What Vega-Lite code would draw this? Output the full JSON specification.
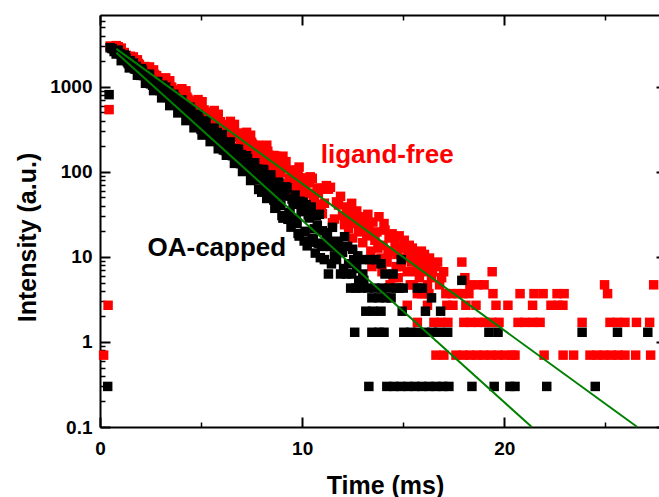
{
  "$schema": "https://vega.github.io/schema/vega-lite/v6.json",
  "width": 559,
  "height": 412,
  "autosize": {"type": "none"},
  "padding": {"left": 100, "top": 15, "right": 0, "bottom": 70},
  "config": {
    "view": {"stroke": null},
    "axis": {
      "labelFont": "Liberation Sans", "titleFont": "Liberation Sans",
      "labelFontWeight": "bold", "titleFontWeight": "bold",
      "labelFontSize": 19, "titleFontSize": 25,
      "labelColor": "black", "titleColor": "black",
      "tickColor": "black", "domainColor": "black",
      "grid": false, "domain": false, "labelFlush": false, "labelOverlap": false
    }
  },
  "datasets": {
    "red": [
      {"t":0.18,"v":0.7},{"t":0.4,"v":2.7},{"t":0.45,"v":540},
      {"t":0.5,"v":3020},{"t":0.7,"v":2767},{"t":0.9,"v":2965},{"t":1.1,"v":2297},{"t":1.3,"v":2350},{"t":1.5,"v":2291},{"t":1.7,"v":1795},{"t":1.9,"v":1884},{"t":2.1,"v":1632},{"t":2.3,"v":1698},{"t":2.5,"v":1341},{"t":2.7,"v":1396},{"t":2.9,"v":1113},{"t":3.1,"v":1250},{"t":3.3,"v":1017},{"t":3.5,"v":995},{"t":3.7,"v":800},{"t":3.9,"v":920},{"t":4.1,"v":715},{"t":4.3,"v":758},{"t":4.5,"v":576},{"t":4.7,"v":604},{"t":4.9,"v":611},{"t":5.1,"v":469},{"t":5.3,"v":504},{"t":5.5,"v":384},{"t":5.7,"v":460},{"t":5.9,"v":356},{"t":6.1,"v":361},{"t":6.3,"v":275},{"t":6.5,"v":326},{"t":6.7,"v":255},{"t":6.9,"v":286},{"t":7.1,"v":198},{"t":7.3,"v":220},{"t":7.5,"v":223},{"t":7.7,"v":151},{"t":7.9,"v":183},
      {"t":0.6,"v":2852},{"t":0.8,"v":3055},{"t":1.0,"v":2547},{"t":1.2,"v":2535},{"t":1.4,"v":2020},{"t":1.6,"v":2103},{"t":1.8,"v":2070},{"t":2.0,"v":1667},{"t":2.2,"v":1735},{"t":2.4,"v":1371},{"t":2.6,"v":1387},{"t":2.8,"v":1355},{"t":3.0,"v":1094},{"t":3.2,"v":1216},{"t":3.4,"v":966},{"t":3.6,"v":843},{"t":3.8,"v":904},{"t":4.0,"v":874},{"t":4.2,"v":649},{"t":4.4,"v":688},{"t":4.6,"v":665},{"t":4.8,"v":548},{"t":5.0,"v":608},{"t":5.2,"v":432},{"t":5.4,"v":478},{"t":5.6,"v":411},{"t":5.8,"v":430},{"t":6.0,"v":323},{"t":6.2,"v":343},{"t":6.4,"v":349},{"t":6.6,"v":258},{"t":6.8,"v":259},{"t":7.0,"v":199},{"t":7.2,"v":251},{"t":7.4,"v":224},{"t":7.6,"v":178},{"t":7.8,"v":206},
      {"t":1.05,"v":2857},{"t":1.45,"v":1936},{"t":1.85,"v":2078},{"t":2.25,"v":1344},{"t":2.65,"v":1584},{"t":3.05,"v":979},{"t":3.45,"v":1179},{"t":3.85,"v":696},{"t":4.25,"v":899},{"t":4.65,"v":483},{"t":5.05,"v":669},{"t":5.45,"v":352},{"t":5.85,"v":476},{"t":6.25,"v":245},{"t":6.65,"v":362},{"t":7.05,"v":178},{"t":7.45,"v":270},{"t":7.85,"v":124},{"t":8.25,"v":206},{"t":8.65,"v":85.9},{"t":9.05,"v":153},{"t":9.45,"v":59.7},{"t":9.85,"v":114},
      {"t":1.25,"v":2095},{"t":1.65,"v":2250},{"t":2.05,"v":1490},{"t":2.45,"v":1714},{"t":2.85,"v":1059},{"t":3.25,"v":1276},{"t":3.65,"v":753},{"t":4.05,"v":951},{"t":4.45,"v":524},{"t":4.85,"v":708},{"t":5.25,"v":381},{"t":5.65,"v":527},{"t":6.05,"v":271},{"t":6.45,"v":393},{"t":6.85,"v":193},{"t":7.25,"v":292},{"t":7.65,"v":137},
      {"t":1.15,"v":2500},{"t":1.35,"v":2208},{"t":1.55,"v":2135},{"t":1.75,"v":1884},{"t":1.95,"v":1822},{"t":2.15,"v":1607},{"t":2.35,"v":1571},{"t":2.55,"v":1355},{"t":2.75,"v":1340},{"t":2.95,"v":1156},{"t":3.15,"v":1156},{"t":3.35,"v":975},{"t":3.55,"v":986},{"t":3.75,"v":832},{"t":3.95,"v":841},{"t":4.15,"v":710},{"t":4.35,"v":718},{"t":4.55,"v":605},{"t":4.75,"v":612},{"t":4.95,"v":516},{"t":5.15,"v":535},{"t":5.35,"v":430},{"t":5.55,"v":456},{"t":5.75,"v":367},{"t":5.95,"v":389},{"t":6.15,"v":313},{"t":6.35,"v":332},{"t":6.55,"v":267},{"t":6.75,"v":283},{"t":6.95,"v":228},{"t":7.15,"v":247},{"t":7.35,"v":190},{"t":7.55,"v":211},{"t":7.75,"v":162},{"t":7.95,"v":180},{"t":8.15,"v":138},{"t":8.35,"v":157},{"t":8.55,"v":115},{"t":8.75,"v":134},{"t":8.95,"v":98.2},{"t":9.15,"v":114},{"t":9.35,"v":83.8},{"t":9.55,"v":99.7},{"t":9.75,"v":69.8},{"t":9.95,"v":85.1},{"t":10.15,"v":59.6},{"t":10.35,"v":74.2},{"t":10.55,"v":49.7},{"t":10.75,"v":64.8},{"t":10.95,"v":41.4},
      {"t":8.0,"v":131},{"t":8.1,"v":148},{"t":8.2,"v":171},{"t":8.3,"v":175},{"t":8.4,"v":128},{"t":8.5,"v":112},{"t":8.6,"v":156},{"t":8.7,"v":153},{"t":8.8,"v":92.9},{"t":8.9,"v":100},{"t":9.0,"v":124},{"t":9.1,"v":113},{"t":9.2,"v":132},{"t":9.3,"v":72.8},{"t":9.4,"v":78.1},{"t":9.5,"v":105},{"t":9.6,"v":80.5},{"t":9.7,"v":105},{"t":9.8,"v":98.1},{"t":9.9,"v":60.6},{"t":10.0,"v":51.4},{"t":10.1,"v":72.2},{"t":10.2,"v":77.0},{"t":10.3,"v":56.1},{"t":10.4,"v":87.5},{"t":10.5,"v":84.1},{"t":10.6,"v":48.1},{"t":10.7,"v":40.3},{"t":10.8,"v":56.6},{"t":10.9,"v":62.5},{"t":11.0,"v":32.2},{"t":11.1,"v":42.8},{"t":11.2,"v":69},{"t":11.3,"v":62.6},{"t":11.4,"v":65.9},{"t":11.5,"v":25.2},{"t":11.6,"v":27.9},{"t":11.7,"v":44.4},{"t":11.8,"v":40.8},{"t":11.9,"v":51.6},{"t":12.0,"v":30.7},{"t":12.1,"v":23.9},
      {"t":12.2,"v":38.7},{"t":12.3,"v":21.7},{"t":12.4,"v":30.7},{"t":12.5,"v":16.7},{"t":12.6,"v":27.7},{"t":12.7,"v":34.7},{"t":12.8,"v":19.7},{"t":12.9,"v":24.7},{"t":13.0,"v":14.7},{"t":13.1,"v":28.7},{"t":13.2,"v":17.7},{"t":13.3,"v":22.7},{"t":13.4,"v":11.7},{"t":13.45,"v":7.7},{"t":13.5,"v":25.7},{"t":13.6,"v":15.7},{"t":13.7,"v":19.7},{"t":13.8,"v":29.7},{"t":13.9,"v":9.7},{"t":13.95,"v":6.7},{"t":14.0,"v":13.7},{"t":14.1,"v":20.7},{"t":14.2,"v":8.7},{"t":14.3,"v":16.7},{"t":14.35,"v":4.7},{"t":14.4,"v":11.7},{"t":14.5,"v":5.7},{"t":14.6,"v":14.7},{"t":14.7,"v":10.7},{"t":14.75,"v":5.7},{"t":14.8,"v":17.7},{"t":14.9,"v":7.7},{"t":15.0,"v":12.7},{"t":15.1,"v":9.7},{"t":15.2,"v":6.7},{"t":15.3,"v":13.7},{"t":15.35,"v":4.7},{"t":15.4,"v":8.7},{"t":15.5,"v":4.7},{"t":15.6,"v":10.7},{"t":15.7,"v":7.7},{"t":15.8,"v":5.7},{"t":15.9,"v":11.7},{"t":16.0,"v":6.7},{"t":16.1,"v":8.7},{"t":16.2,"v":4.7},{"t":16.3,"v":9.7},{"t":16.4,"v":5.7},{"t":16.6,"v":7.7},{"t":16.7,"v":8.7},{"t":16.8,"v":4.7},{"t":16.9,"v":5.7},{"t":17.0,"v":6.7},
      {"t":12.25,"v":26.7},{"t":12.35,"v":33.7},{"t":12.45,"v":42.7},{"t":12.75,"v":24.7},{"t":12.85,"v":29.7},{"t":13.05,"v":20.7},{"t":13.25,"v":31.7},{"t":13.55,"v":18.7},{"t":13.75,"v":12.7},{"t":14.05,"v":24.7},{"t":14.25,"v":10.7},{"t":14.45,"v":18.7},{"t":14.65,"v":7.7},{"t":14.85,"v":12.7},{"t":15.05,"v":15.7},{"t":15.25,"v":10.7},{"t":15.45,"v":12.7},{"t":15.65,"v":6.7},{"t":15.85,"v":8.7},{"t":16.05,"v":10.7},{"t":16.25,"v":7.7},{"t":16.45,"v":6.7},
      {"t":17.9,"v":8.7},{"t":18.05,"v":5.7},{"t":19.4,"v":6.7},{"t":18.3,"v":4.7},{"t":18.7,"v":4.7},{"t":19.0,"v":4.7},{"t":24.96,"v":4.7},{"t":27.39,"v":4.7},
      {"t":15.7,"v":3.7},{"t":15.9,"v":3.7},{"t":16.1,"v":3.7},{"t":16.27,"v":3.7},{"t":17.11,"v":3.7},{"t":17.41,"v":3.7},{"t":17.7,"v":3.7},{"t":17.96,"v":3.7},{"t":18.25,"v":3.7},{"t":19.44,"v":3.7},{"t":20.78,"v":3.7},{"t":21.47,"v":3.7},{"t":21.92,"v":3.7},{"t":22.61,"v":3.7},{"t":22.96,"v":3.7},{"t":25.11,"v":3.7},
      {"t":15.2,"v":2.7},{"t":16.2,"v":2.7},{"t":17.16,"v":2.7},{"t":17.46,"v":2.7},{"t":18.1,"v":2.7},{"t":18.6,"v":2.7},{"t":19.59,"v":2.7},{"t":20.18,"v":2.7},{"t":21.4,"v":2.7},{"t":22.31,"v":2.7},{"t":22.66,"v":2.7},{"t":22.9,"v":2.7},
      {"t":15.7,"v":1.7},{"t":16.52,"v":1.7},{"t":16.87,"v":1.7},{"t":17.21,"v":1.7},{"t":18.0,"v":1.7},{"t":18.35,"v":1.7},{"t":18.7,"v":1.7},{"t":19.04,"v":1.7},{"t":19.39,"v":1.7},{"t":19.74,"v":1.7},{"t":20.68,"v":1.7},{"t":21.02,"v":1.7},{"t":21.42,"v":1.7},{"t":21.77,"v":1.7},{"t":23.85,"v":1.7},{"t":25.23,"v":1.7},{"t":25.58,"v":1.7},{"t":25.97,"v":1.7},{"t":26.54,"v":1.7},{"t":27.19,"v":1.7},
      {"t":16.62,"v":0.7},{"t":17.01,"v":0.7},{"t":17.61,"v":0.7},{"t":17.96,"v":0.7},{"t":18.3,"v":0.7},{"t":18.65,"v":0.7},{"t":18.99,"v":0.7},{"t":19.34,"v":0.7},{"t":19.69,"v":0.7},{"t":20.03,"v":0.7},{"t":20.38,"v":0.7},{"t":20.53,"v":0.7},{"t":21.97,"v":0.7},{"t":22.91,"v":0.7},{"t":23.43,"v":0.7},{"t":24.24,"v":0.7},{"t":24.59,"v":0.7},{"t":24.93,"v":0.7},{"t":25.28,"v":0.7},{"t":25.63,"v":0.7},{"t":25.97,"v":0.7},{"t":26.5,"v":0.7},{"t":27.24,"v":0.7}
    ],
    "black": [
      {"t":0.38,"v":0.3},{"t":0.45,"v":810},
      {"t":0.5,"v":2884},{"t":0.7,"v":2602},{"t":0.9,"v":2704},{"t":1.1,"v":2080},{"t":1.3,"v":2163},{"t":1.5,"v":2032},{"t":1.7,"v":1633},{"t":1.9,"v":1413},{"t":2.1,"v":1563},{"t":2.3,"v":1303},{"t":2.5,"v":1086},{"t":2.7,"v":1119},{"t":2.9,"v":934},{"t":3.1,"v":1047},{"t":3.3,"v":753},{"t":3.5,"v":802},{"t":3.7,"v":760},{"t":3.9,"v":586},{"t":4.1,"v":570},{"t":4.3,"v":460},{"t":4.5,"v":519},{"t":4.7,"v":400},{"t":4.9,"v":416},{"t":5.1,"v":363},{"t":5.3,"v":277},{"t":5.5,"v":300},{"t":5.7,"v":251},{"t":5.9,"v":271},{"t":6.1,"v":181},{"t":6.3,"v":212},{"t":6.5,"v":164},{"t":6.7,"v":186},{"t":6.9,"v":128},
      {"t":0.6,"v":2818},{"t":0.8,"v":2432},{"t":1.0,"v":2460},{"t":1.2,"v":2377},{"t":1.4,"v":1877},{"t":1.6,"v":1750},{"t":1.8,"v":1738},{"t":2.0,"v":1365},{"t":2.2,"v":1406},{"t":2.4,"v":1334},{"t":2.6,"v":1044},{"t":2.8,"v":1018},{"t":3.0,"v":935},{"t":3.2,"v":962},{"t":3.4,"v":902},{"t":3.6,"v":665},{"t":3.8,"v":676},{"t":4.0,"v":558},{"t":4.2,"v":601},{"t":4.4,"v":438},{"t":4.6,"v":472},{"t":4.8,"v":404},{"t":5.0,"v":316},{"t":5.2,"v":377},{"t":5.4,"v":315},{"t":5.6,"v":251},{"t":5.8,"v":290},{"t":6.0,"v":216},{"t":6.2,"v":178},{"t":6.4,"v":202},{"t":6.6,"v":177},{"t":6.8,"v":128},
      {"t":1.05,"v":2032},{"t":1.25,"v":2321},{"t":1.45,"v":1671},{"t":1.65,"v":1905},{"t":1.85,"v":1371},{"t":2.05,"v":1637},{"t":2.25,"v":1101},{"t":2.45,"v":1409},{"t":2.65,"v":904},{"t":2.85,"v":1156},{"t":3.05,"v":742},{"t":3.25,"v":994},{"t":3.45,"v":602},{"t":3.65,"v":817},{"t":3.85,"v":494},{"t":4.05,"v":702},{"t":4.25,"v":401},{"t":4.45,"v":577},{"t":4.65,"v":330},{"t":4.85,"v":473},{"t":5.05,"v":271},{"t":5.25,"v":398},{"t":5.45,"v":227},{"t":5.65,"v":327},{"t":5.85,"v":187},{"t":6.05,"v":274},{"t":6.25,"v":157},{"t":6.45,"v":225},{"t":6.65,"v":126},{"t":6.85,"v":185},{"t":7.05,"v":101},{"t":7.25,"v":155},{"t":7.45,"v":79.2},{"t":7.65,"v":128},{"t":7.85,"v":62.1},{"t":8.05,"v":107},{"t":8.25,"v":48.7},{"t":8.45,"v":92.2},{"t":8.65,"v":37.3},{"t":8.85,"v":75.7},{"t":9.05,"v":28.6},{"t":9.25,"v":65.1},{"t":9.45,"v":22.4},{"t":9.65,"v":53.4},{"t":9.85,"v":17.6},{"t":10.05,"v":43.9},{"t":10.25,"v":13.5},{"t":10.45,"v":38.6},{"t":10.65,"v":11.1},{"t":10.85,"v":31.7},
      {"t":1.15,"v":2275},{"t":1.35,"v":1968},{"t":1.55,"v":1866},{"t":1.75,"v":1618},{"t":1.95,"v":1535},{"t":2.15,"v":1358},{"t":2.35,"v":1303},{"t":2.55,"v":1102},{"t":2.75,"v":1071},{"t":2.95,"v":905},{"t":3.15,"v":931},{"t":3.35,"v":769},{"t":3.55,"v":764},{"t":3.75,"v":632},{"t":3.95,"v":628},{"t":4.15,"v":519},{"t":4.35,"v":515},{"t":4.55,"v":426},{"t":4.75,"v":433},{"t":4.95,"v":342},{"t":5.15,"v":356},{"t":5.35,"v":281},{"t":5.55,"v":292},{"t":5.75,"v":231},{"t":5.95,"v":240},{"t":6.15,"v":189},{"t":6.35,"v":197},{"t":6.55,"v":155},{"t":6.75,"v":166},{"t":6.95,"v":125},{"t":7.15,"v":136},{"t":7.35,"v":102},{"t":7.55,"v":111},{"t":7.75,"v":80.2},{"t":7.95,"v":91.5},{"t":8.15,"v":65.9},{"t":8.35,"v":76.9},{"t":8.55,"v":50.5},{"t":8.75,"v":61.7},{"t":8.95,"v":40.5},{"t":9.15,"v":51.9},{"t":9.35,"v":32.5},{"t":9.55,"v":41.6},{"t":9.75,"v":24.9},{"t":9.95,"v":35.0},{"t":10.15,"v":20.0},{"t":10.35,"v":28.7},{"t":10.55,"v":16.4},{"t":10.75,"v":23.6},{"t":10.95,"v":13.5},
      {"t":7.0,"v":160},{"t":7.1,"v":136},{"t":7.2,"v":103},{"t":7.3,"v":142},{"t":7.4,"v":120},{"t":7.5,"v":82.8},{"t":7.6,"v":86.4},{"t":7.7,"v":104},{"t":7.8,"v":108},{"t":7.9,"v":81.7},{"t":8.0,"v":57.7},{"t":8.1,"v":105},{"t":8.2,"v":84.7},{"t":8.3,"v":56.6},{"t":8.4,"v":84.6},{"t":8.5,"v":65.5},{"t":8.6,"v":46.6},{"t":8.7,"v":39.0},{"t":8.8,"v":54.7},{"t":8.9,"v":65.2},{"t":9.0,"v":30.7},{"t":9.1,"v":53.2},{"t":9.2,"v":66.7},{"t":9.3,"v":27.7},{"t":9.4,"v":33.2},{"t":9.5,"v":47.9},{"t":9.6,"v":43.5},{"t":9.7,"v":27.4},{"t":9.8,"v":18.9},{"t":9.9,"v":45.1},{"t":10.0,"v":34.1},{"t":10.1,"v":15.4},{"t":10.2,"v":41.2},{"t":10.3,"v":31.2},{"t":10.4,"v":14.9},{"t":10.5,"v":15.9},{"t":10.6,"v":21.4},{"t":10.7,"v":30.4},{"t":10.8,"v":14.5},{"t":10.9,"v":9.8},
      {"t":11.05,"v":13.3},{"t":11.25,"v":19.3},{"t":11.45,"v":8.3},{"t":11.65,"v":15.3},{"t":11.85,"v":11.3},{"t":12.05,"v":7.3},{"t":12.25,"v":13.3},{"t":12.45,"v":6.3},{"t":12.75,"v":10.3},{"t":13.05,"v":5.3},
      {"t":11.0,"v":20.3},{"t":11.1,"v":9.3},{"t":11.2,"v":16.3},{"t":11.3,"v":6.3},{"t":11.4,"v":13.3},{"t":11.5,"v":22.3},{"t":11.6,"v":10.3},{"t":11.7,"v":9.3},{"t":11.8,"v":14.3},{"t":11.9,"v":6.3},{"t":12.0,"v":11.3},{"t":12.1,"v":17.3},{"t":12.2,"v":6.3},{"t":12.3,"v":8.3},{"t":12.4,"v":4.3},{"t":12.5,"v":12.3},{"t":12.55,"v":9.3},{"t":12.6,"v":1.3},{"t":12.65,"v":4.3},{"t":12.7,"v":7.3},{"t":12.8,"v":5.3},{"t":12.9,"v":4.3},{"t":12.95,"v":9.3},{"t":13.0,"v":6.3},{"t":13.15,"v":2.3},{"t":13.25,"v":4.3},{"t":13.3,"v":0.3},{"t":13.35,"v":9.3},{"t":13.45,"v":1.3},{"t":13.45,"v":3.3},{"t":13.5,"v":2.3},{"t":13.6,"v":4.3},{"t":13.65,"v":9.3},{"t":13.8,"v":3.3},{"t":13.8,"v":1.3},{"t":13.9,"v":2.3},{"t":13.9,"v":8.3},{"t":13.95,"v":4.3},{"t":14.05,"v":1.3},{"t":14.1,"v":6.3},{"t":14.15,"v":3.3},{"t":14.19,"v":0.3},{"t":14.3,"v":4.3},{"t":14.4,"v":3.3},{"t":14.5,"v":6.3},{"t":14.54,"v":0.3},{"t":14.65,"v":4.3},{"t":14.8,"v":4.3},{"t":14.88,"v":0.3},{"t":14.9,"v":9.3},{"t":14.95,"v":2.3},{"t":15.0,"v":4.3},{"t":15.03,"v":1.3},{"t":15.23,"v":0.3},{"t":15.38,"v":1.3},{"t":15.58,"v":0.3},{"t":15.7,"v":4.3},{"t":15.72,"v":1.3},{"t":15.92,"v":0.3},{"t":15.95,"v":4.3},{"t":16.07,"v":1.3},{"t":16.1,"v":2.3},{"t":16.27,"v":0.3},{"t":16.4,"v":3.3},{"t":16.42,"v":1.3},{"t":16.62,"v":0.3},{"t":16.76,"v":1.3},{"t":16.85,"v":2.3},{"t":16.96,"v":0.3},{"t":17.2,"v":1.3},{"t":17.26,"v":0.3},{"t":17.9,"v":5.3},{"t":18.4,"v":0.3},{"t":19.24,"v":1.3},{"t":19.5,"v":0.3},{"t":19.69,"v":1.3},{"t":20.28,"v":0.3},{"t":20.53,"v":0.3},{"t":22.1,"v":0.3},{"t":23.85,"v":1.3},{"t":24.5,"v":0.3},{"t":25.6,"v":1.3},{"t":27.1,"v":1.3}
    ],
    "fits": [
      {"t":0.81,"v":2800,"s":"ligand-free"},{"t":26.58,"v":0.1,"s":"ligand-free"},
      {"t":0.81,"v":2512,"s":"OA-capped"},{"t":21.36,"v":0.1,"s":"OA-capped"}
    ],
    "lab1": [{"t":10.92,"v":127,"label":"ligand-free"}],
    "lab2": [{"t":2.35,"v":10.35,"label":"OA-capped"}]
  },
  "resolve": {"axis": {"x": "independent", "y": "independent"}},
  "layer": [
    {
      "data": {"name": "red"},
      "mark": {"type": "square", "size": 90, "color": "#ff0000", "opacity": 1},
      "encoding": {
        "x": {"field": "t", "type": "quantitative",
          "scale": {"domain": [0, 28], "range": [0, 566], "nice": false, "zero": false},
          "axis": {"orient": "bottom", "values": [0, 10, 20], "ticks": false, "domain": true, "domainWidth": 2,
            "labelPadding": 12, "title": "Time (ms)", "titleX": 285, "titleY": 66, "titleBaseline": "alphabetic", "titleAlign": "center"}},
        "y": {"field": "v", "type": "quantitative",
          "scale": {"type": "log", "domain": [0.1, 7000], "nice": false},
          "axis": {"orient": "left", "values": [0.1, 1, 10, 100, 1000], "ticks": false, "domain": true, "domainWidth": 2,
            "labelPadding": 8, "labelExpr": "datum.value >= 1 ? format(datum.value, 'd') : format(datum.value, '.1f')",
            "title": "Intensity (a.u.)", "titleX": -65, "titleY": 222, "titleBaseline": "alphabetic", "titleAlign": "center", "titleAngle": -90}}
      }
    },
    {
      "data": {"name": "black"},
      "mark": {"type": "square", "size": 90, "color": "#000000", "opacity": 1},
      "encoding": {
        "x": {"field": "t", "type": "quantitative",
          "scale": {"domain": [0, 28], "range": [0, 566], "nice": false, "zero": false},
          "axis": {"orient": "bottom", "values": [0, 10, 20], "tickSize": -10, "tickWidth": 2, "labels": false, "title": null}},
        "y": {"field": "v", "type": "quantitative",
          "scale": {"type": "log", "domain": [0.1, 7000], "nice": false},
          "axis": {"orient": "left", "values": [0.1, 1, 10, 100, 1000], "tickSize": -10, "tickWidth": 2, "labels": false, "title": null}}
      }
    },
    {
      "data": {"name": "fits"},
      "mark": {"type": "line", "color": "#008000", "strokeWidth": 2},
      "encoding": {
        "detail": {"field": "s"},
        "x": {"field": "t", "type": "quantitative",
          "scale": {"domain": [0, 28], "range": [0, 566], "nice": false, "zero": false},
          "axis": {"orient": "bottom", "values": [5, 15, 25], "tickSize": -5, "tickWidth": 1.5, "labels": false, "title": null}},
        "y": {"field": "v", "type": "quantitative",
          "scale": {"type": "log", "domain": [0.1, 7000], "nice": false},
          "axis": {"orient": "left", "values": [0.2,0.3,0.4,0.5,0.6,0.7,0.8,0.9,2,3,4,5,6,7,8,9,20,30,40,50,60,70,80,90,200,300,400,500,600,700,800,900,2000,3000,4000,5000,6000],
            "tickSize": -5, "tickWidth": 1.5, "labels": false, "title": null}}
      }
    },
    {
      "data": {"name": "lab1"},
      "mark": {"type": "text", "font": "Liberation Sans", "fontWeight": "bold", "fontSize": 26, "align": "left", "baseline": "alphabetic", "color": "#ff0000"},
      "encoding": {
        "text": {"field": "label"},
        "x": {"field": "t", "type": "quantitative",
          "scale": {"domain": [0, 28], "range": [0, 566], "nice": false, "zero": false},
          "axis": {"orient": "top", "values": [0, 10, 20], "tickSize": -10, "tickWidth": 2, "labels": false, "title": null, "domain": true, "domainWidth": 2}},
        "y": {"field": "v", "type": "quantitative",
          "scale": {"type": "log", "domain": [0.1, 7000], "nice": false},
          "axis": {"orient": "right", "offset": 7, "values": [0.1, 1, 10, 100, 1000], "tickSize": -10, "tickWidth": 2, "labels": false, "title": null}}
      }
    },
    {
      "data": {"name": "lab2"},
      "mark": {"type": "text", "font": "Liberation Sans", "fontWeight": "bold", "fontSize": 26, "align": "left", "baseline": "alphabetic", "color": "#000000"},
      "encoding": {
        "text": {"field": "label"},
        "x": {"field": "t", "type": "quantitative",
          "scale": {"domain": [0, 28], "range": [0, 566], "nice": false, "zero": false},
          "axis": {"orient": "top", "values": [5, 15, 25], "tickSize": -5, "tickWidth": 1.5, "labels": false, "title": null}},
        "y": {"field": "v", "type": "quantitative",
          "scale": {"type": "log", "domain": [0.1, 7000], "nice": false},
          "axis": {"orient": "right", "offset": 7, "values": [0.2,0.3,0.4,0.5,0.6,0.7,0.8,0.9,2,3,4,5,6,7,8,9,20,30,40,50,60,70,80,90,200,300,400,500,600,700,800,900,2000,3000,4000,5000,6000],
            "tickSize": -5, "tickWidth": 1.5, "labels": false, "title": null}}
      }
    }
  ]
}
